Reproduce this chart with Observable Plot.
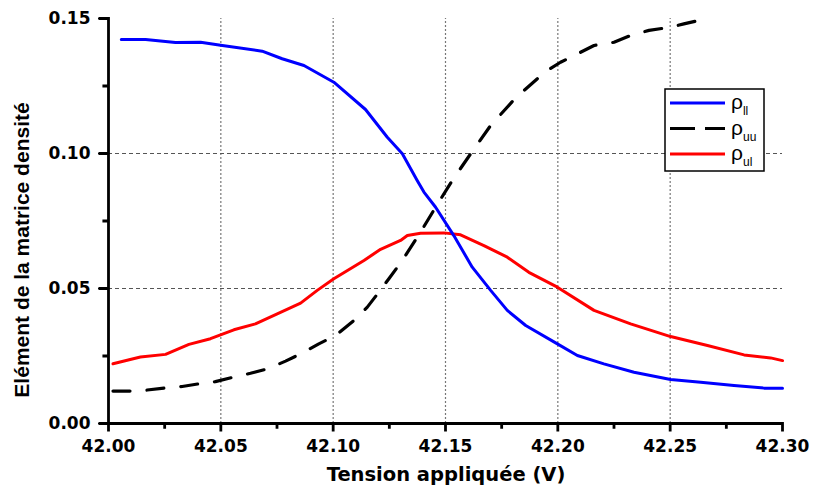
<!DOCTYPE html>
<html><head><meta charset="utf-8">
<script src="https://cdn.jsdelivr.net/npm/d3@7"></script>
<script src="https://cdn.jsdelivr.net/npm/@observablehq/plot@0.6"></script>
<style>
body{margin:0;background:#fff}
</style>
</head><body><div id="chart"></div>
<script>
// Applied voltage (V) and density-matrix elements
const llV = [42.0057,42.0165,42.0298,42.041,42.0499,42.0684,42.0773,42.087,42.1003,42.1144,42.1241,42.1308,42.1374,42.1404,42.1456,42.1537,42.1619,42.1701,42.1775,42.1857,42.1998,42.2087,42.2205,42.2339,42.2502,42.2636,42.2784,42.2918,42.30];
const llVal = [0.1422,0.1422,0.1411,0.1412,0.1401,0.1379,0.1351,0.1326,0.1264,0.1163,0.1060,0.0999,0.0900,0.0857,0.0801,0.0696,0.0579,0.0493,0.0419,0.0363,0.0295,0.0252,0.0221,0.0190,0.0163,0.0153,0.0141,0.0131,0.0131];

const uuV = [42.002,42.0098,42.0172,42.0254,42.0328,42.0402,42.0476,42.0558,42.0632,42.0707,42.0788,42.0855,42.0936,42.1011,42.1092,42.1152,42.1203,42.1248,42.1308,42.1389,42.1456,42.153,42.1612,42.1701,42.1812,42.1946,42.2012,42.2101,42.2161,42.225,42.2324,42.2406,42.2502,42.2561,42.2628];
const uuVal = [0.0120,0.0120,0.0124,0.0132,0.0137,0.0147,0.0155,0.0172,0.0186,0.0202,0.0231,0.0258,0.0295,0.0326,0.0381,0.0431,0.0486,0.0536,0.0604,0.0709,0.0801,0.0900,0.0999,0.1104,0.1206,0.1304,0.1338,0.1375,0.1400,0.1412,0.1437,0.1456,0.1468,0.1480,0.1493];

const ulV = [42.002,42.0142,42.0254,42.0358,42.0454,42.0558,42.0654,42.0751,42.0855,42.0929,42.1003,42.1137,42.1211,42.130,42.133,42.1389,42.1493,42.1567,42.1671,42.1775,42.1871,42.1998,42.2161,42.2324,42.2502,42.2666,42.2829,42.2947,42.30];
const ulVal = [0.0221,0.0246,0.0256,0.0293,0.0314,0.0347,0.0369,0.0406,0.0446,0.0493,0.0536,0.0604,0.0645,0.0678,0.0696,0.0705,0.0706,0.0699,0.0659,0.0616,0.0560,0.0505,0.0419,0.0369,0.0322,0.0289,0.0254,0.0243,0.0233];

const xMajor = [42.00,42.05,42.10,42.15,42.20,42.25,42.30];
const xMinor = [42.025,42.075,42.125,42.175,42.225,42.275];
const xGrid = [42.05,42.10,42.15,42.20,42.25];
const yMajor = [0.00,0.05,0.10,0.15];
const yMinor = [0.025,0.075,0.125];
const yGrid = [0.05,0.10];

const seriesNames = ["ll","uu","ul"];
const seriesColors = ["#0000ff","#000000","#ff0000"];
const xTitle = "Tension appliquée (V)";
const yTitle = "Elément de la matrice densité";

const toRows = (vs, ys) => vs.map((v,i)=>({x:v,y:ys[i]}));
const ll = toRows(llV, llVal), uu = toRows(uuV, uuVal), ul = toRows(ulV, ulVal);

// axis lines with their tick marks, built as one comb-shaped polyline each (in data units)
const xTickLen = 0.003, xMinorLen = 0.0019, yTickLen = 0.00445, yMinorLen = 0.0027;
const xTicksAll = [...xMajor.map(v => ({v, len: xTickLen})), ...xMinor.map(v => ({v, len: xMinorLen}))].sort((a,b)=>a.v-b.v);
const yTicksAll = [...yMajor.map(v => ({v, len: yTickLen})), ...yMinor.map(v => ({v, len: yMinorLen}))].sort((a,b)=>a.v-b.v);
const xAxisPath = [];
xTicksAll.forEach(t => { xAxisPath.push({x: t.v, y: 0}, {x: t.v, y: -t.len}, {x: t.v, y: 0}); });
const yAxisPath = [];
yTicksAll.forEach(t => { yAxisPath.push({x: 42, y: t.v}, {x: 42 - t.len, y: t.v}, {x: 42, y: t.v}); });

const chart = Plot.plot({
  width: 814, height: 493,
  marginLeft: 108, marginRight: 32, marginTop: 18, marginBottom: 70,
  x: {domain: [42, 42.3]},
  y: {domain: [0, 0.15]},
  style: {background: "#fff", fontFamily: "DejaVu Sans", fontSize: "17px", fontWeight: "bold", color: "#000"},
  marks: [
    Plot.ruleX(xGrid, {y1: 0, y2: 0.15, stroke: "#777", strokeWidth: 1.2, strokeDasharray: "2,2"}),
    Plot.ruleY(yGrid, {stroke: "#555", strokeWidth: 1, strokeDasharray: "4,3"}),
    Plot.line(ul, {x: "x", y: "y", stroke: seriesColors[2], strokeWidth: 3}),
    Plot.line(uu, {x: "x", y: "y", stroke: seriesColors[1], strokeWidth: 3.2, strokeDasharray: "17,17"}),
    Plot.line(ll, {x: "x", y: "y", stroke: seriesColors[0], strokeWidth: 3}),
    Plot.line(xAxisPath, {x: "x", y: "y", stroke: "#000", strokeWidth: 2.8, strokeLinejoin: "miter", strokeMiterlimit: 1, strokeLinecap: "square"}),
    Plot.line(yAxisPath, {x: "x", y: "y", stroke: "#000", strokeWidth: 2.8, strokeLinejoin: "miter", strokeMiterlimit: 1, strokeLinecap: "square"}),
    Plot.axisX(xMajor, {tickSize: 8, tickPadding: 8, tickFormat: d3.format(".2f"), label: null}),
    Plot.axisY(yMajor, {tickSize: 10, tickPadding: 8, tickFormat: d3.format(".2f"), label: null})
  ]
});
document.getElementById("chart").appendChild(chart);

const svg = d3.select(chart);
// axis titles
svg.append("text").attr("x", 446).attr("y", 481).attr("text-anchor", "middle")
  .style("font-family", "DejaVu Sans").style("font-size", "19.5px").style("font-weight", "bold")
  .text(xTitle);
svg.append("text").attr("transform", "translate(29,250) rotate(-90)").attr("text-anchor", "middle")
  .style("font-family", "'Liberation Sans', Arial, sans-serif").style("font-size", "21px").style("font-weight", "bold")
  .text(yTitle);

// legend
const lg = svg.append("g");
lg.append("rect").attr("x", 665).attr("y", 89).attr("width", 99).attr("height", 82)
  .attr("fill", "#fff").attr("stroke", "#000").attr("stroke-width", 1.5);
const ys = [103, 128.5, 154];
const dashes = [null, "25,10", null];
seriesNames.forEach((n, i) => {
  const l = lg.append("line").attr("x1", 670).attr("x2", 725).attr("y1", ys[i]).attr("y2", ys[i])
    .attr("stroke", seriesColors[i]).attr("stroke-width", 3);
  if (dashes[i]) l.attr("stroke-dasharray", dashes[i]);
  const t = lg.append("text").attr("x", 731).attr("y", ys[i] + 6).attr("text-anchor", "start")
    .style("font-family", "'Liberation Sans', Arial, sans-serif").style("font-size", "21px").style("font-weight", "normal");
  t.append("tspan").text("ρ");
  t.append("tspan").attr("dy", 6).style("font-size", "12px").text(n);
});
</script>
</body></html>
